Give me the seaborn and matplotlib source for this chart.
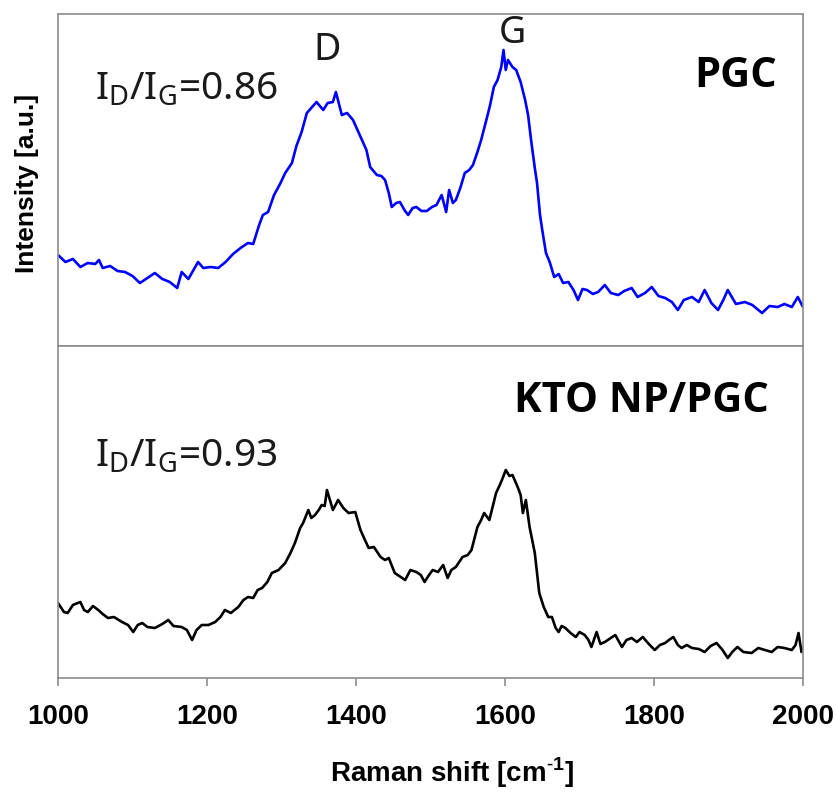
import numpy as np
import pandas as pd
import seaborn as sns
import matplotlib.pyplot as plt

# ----------------------------
# Spectra (a.u., arbitrary baseline)
# ----------------------------
pgc_shift = [1000, 1010, 1020, 1030, 1040, 1050, 1055, 1060, 1070, 1080, 1090, 1100,
             1110, 1120, 1130, 1140, 1150, 1160, 1166, 1175, 1188, 1195, 1205, 1215,
             1225, 1235, 1245, 1255, 1262, 1270, 1275, 1282, 1290, 1298, 1305, 1314,
             1320, 1327, 1334, 1340, 1347, 1356, 1362, 1369, 1373, 1381, 1388, 1396,
             1402, 1408, 1414, 1419, 1428, 1434, 1439, 1444, 1448, 1454, 1459, 1465,
             1470, 1476, 1481, 1488, 1495, 1502, 1508, 1515, 1521, 1525, 1530, 1534,
             1540, 1546, 1552, 1557, 1563, 1568, 1576, 1580, 1585, 1590, 1595, 1598,
             1601, 1604, 1610, 1615, 1621, 1627, 1631, 1635, 1640, 1643, 1647, 1650,
             1655, 1660, 1666, 1672, 1678, 1685, 1692, 1698, 1704, 1710, 1718, 1725,
             1734, 1742, 1752, 1760, 1770, 1778, 1788, 1797, 1806, 1815, 1824, 1832,
             1840, 1851, 1860, 1868, 1877, 1886, 1893, 1899, 1910, 1922, 1932, 1945,
             1955, 1966, 1975, 1985, 1993, 2000]
pgc_int = [91, 84, 87, 79, 83, 82, 86, 78, 80, 75, 74, 70,
           63, 68, 73, 67, 64, 58, 74, 67, 84, 78, 79, 78,
           84, 92, 98, 103, 102, 121, 131, 134, 151, 162, 173, 183,
           200, 214, 233, 238, 244, 236, 243, 244, 254, 231, 233, 226,
           216, 206, 196, 179, 171, 170, 166, 153, 139, 143, 144, 136,
           131, 138, 139, 135, 135, 139, 141, 151, 134, 156, 143, 146,
           158, 173, 176, 181, 194, 206, 229, 241, 259, 266, 279, 296,
           276, 286, 279, 276, 264, 246, 231, 206, 178, 163, 131, 116,
           93, 84, 69, 72, 63, 64, 56, 46, 57, 56, 52, 54,
           61, 53, 51, 55, 58, 49, 53, 59, 50, 48, 44, 36,
           46, 49, 44, 56, 43, 36, 46, 56, 42, 44, 41, 33,
           40, 39, 42, 39, 49, 39]

kto_shift = [1000, 1008, 1013, 1020, 1030, 1035, 1040, 1047, 1054, 1060, 1067, 1075,
             1086, 1094, 1101, 1107, 1113, 1120, 1130, 1140, 1148, 1155, 1166, 1173,
             1180, 1186, 1193, 1202, 1211, 1218, 1224, 1232, 1242, 1249, 1255, 1262,
             1268, 1274, 1281, 1287, 1296, 1305, 1312, 1318, 1325, 1329, 1336, 1340,
             1345, 1350, 1354, 1358, 1361, 1365, 1369, 1376, 1383, 1390, 1399, 1406,
             1412, 1417, 1424, 1433, 1439, 1444, 1452, 1460, 1466, 1473, 1481, 1487,
             1492, 1498, 1503, 1510, 1517, 1523, 1528, 1534, 1543, 1550, 1555, 1563,
             1568, 1572, 1579, 1584, 1588, 1593, 1597, 1601, 1606, 1610, 1617, 1621,
             1624, 1628, 1633, 1640, 1646, 1652, 1658, 1663, 1668, 1672, 1676, 1681,
             1688, 1695, 1700, 1707, 1712, 1716, 1723, 1728, 1734, 1742, 1748, 1757,
             1763, 1770, 1777, 1785, 1793, 1801, 1808, 1815, 1820, 1826, 1832, 1837,
             1844, 1851, 1860, 1868, 1876, 1884, 1892, 1899, 1905, 1912, 1920, 1931,
             1940, 1949, 1958, 1966, 1975, 1985, 1990, 1994, 1998, 2000]
kto_int = [75, 66, 65, 73, 76, 68, 66, 72, 68, 64, 60, 61,
           56, 53, 46, 53, 55, 51, 50, 54, 58, 52, 51, 48,
           38, 48, 53, 53, 56, 61, 68, 65, 71, 78, 81, 80,
           88, 90, 96, 105, 108, 115, 125, 135, 150, 155, 168, 160,
           163, 168, 173, 172, 188, 178, 168, 178, 170, 165, 166, 148,
           138, 130, 131, 121, 118, 120, 105, 101, 98, 108, 106, 103,
           96, 103, 108, 106, 113, 100, 108, 111, 121, 123, 128, 151,
           158, 165, 158, 173, 185, 193, 200, 208, 202, 203, 191, 183,
           165, 178, 151, 125, 85, 71, 61, 61, 50, 46, 52, 50,
           45, 41, 46, 43, 38, 31, 46, 34, 36, 40, 43, 31,
           38, 40, 36, 41, 34, 28, 33, 35, 38, 41, 33, 30,
           33, 30, 29, 26, 32, 35, 28, 20, 26, 31, 26, 25,
           30, 28, 26, 31, 30, 28, 33, 45, 26, 30]

x_ticks = [1000, 1200, 1400, 1600, 1800, 2000]

pgc = pd.DataFrame({"shift": pgc_shift, "intensity": pgc_int})
kto = pd.DataFrame({"shift": kto_shift, "intensity": kto_int})

sns.set_theme(style="white")
plt.rcParams["font.family"] = ["Noto Sans", "DejaVu Sans"]
plt.rcParams["mathtext.fontset"] = "custom"
plt.rcParams["mathtext.rm"] = "Noto Sans"
plt.rcParams["mathtext.bf"] = "Liberation Sans:bold"
plt.rcParams["text.color"] = "black"
plt.rcParams["xtick.color"] = "#8c8c8c"
plt.rcParams["xtick.labelcolor"] = "black"

W, H = 837, 793
fig = plt.figure(figsize=(W / 100, H / 100), dpi=100)

def fx(px):
    return px / W

def fy(py):
    return 1 - py / H

ax_top = fig.add_axes([fx(58), fy(346), fx(803) - fx(58), fy(14) - fy(346)])
ax_bot = fig.add_axes([fx(58), fy(678), fx(803) - fx(58), fy(346) - fy(678)])

sns.lineplot(data=pgc, x="shift", y="intensity", ax=ax_top, color="#0000ff",
             lw=1.9, sort=False, estimator=None)
sns.lineplot(data=kto, x="shift", y="intensity", ax=ax_bot, color="black",
             lw=1.9, sort=False, estimator=None)

for ax in (ax_top, ax_bot):
    ax.set_xlim(1000, 2000)
    ax.set_ylim(0, 332)
    ax.set_yticks([])
    ax.set_xlabel("")
    ax.set_ylabel("")
    for sp in ax.spines.values():
        sp.set_color("#8c8c8c")
        sp.set_linewidth(1.2)

ax_top.set_xticks([])
ax_bot.set_xticks(x_ticks)
ax_bot.set_xticklabels([str(t) for t in x_ticks])
ax_bot.tick_params(axis="x", bottom=True, direction="out", length=6, width=1.2,
                   color="#8c8c8c", labelcolor="black", pad=13)
for lab in ax_bot.get_xticklabels():
    lab.set_fontfamily(["Liberation Sans", "DejaVu Sans"])
    lab.set_fontweight("bold")
    lab.set_fontsize(20)

bold_sans = ["Liberation Sans", "DejaVu Sans"]

# axis titles (plain hyphen in the superscript, like the original)
fig.text(fx(452), fy(782), r"Raman shift [cm$^{\mathbf{\text{-}1}}$]", ha="center",
         va="baseline", fontsize=20, fontweight="bold", family=bold_sans)
fig.text(fx(27), fy(183), "Intensity [a.u.]", ha="center", va="center", rotation=90,
         fontsize=19, fontweight="bold", family=bold_sans)

# annotations
fig.text(fx(95), fy(100), r"I$_\mathrm{D}$/I$_\mathrm{G}$=0.86", ha="left", va="baseline",
         fontsize=28, color="#1a1a1a")
fig.text(fx(95), fy(467), r"I$_\mathrm{D}$/I$_\mathrm{G}$=0.93", ha="left", va="baseline",
         fontsize=28, color="#1a1a1a")
fig.text(fx(327), fy(60), "D", ha="center", va="baseline", fontsize=27, color="#1a1a1a")
fig.text(fx(512), fy(43), "G", ha="center", va="baseline", fontsize=27, color="#1a1a1a")
fig.text(fx(777), fy(87), "PGC", ha="right", va="baseline", fontsize=30, fontweight="bold",
         family=["Open Sans", "Liberation Sans", "DejaVu Sans"])
fig.text(fx(769), fy(412), "KTO NP/PGC", ha="right", va="baseline", fontsize=30,
         fontweight="bold", family=["Open Sans", "Liberation Sans", "DejaVu Sans"])

fig.savefig("out.png", dpi=100, facecolor="white")
